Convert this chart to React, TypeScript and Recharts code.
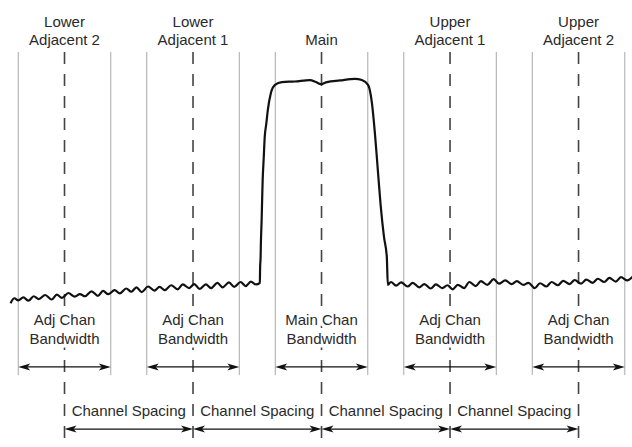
import React from "react";
import {
  LineChart,
  Line,
  XAxis,
  YAxis,
  ReferenceLine,
  ReferenceDot,
} from "recharts";

// frequency offset in MHz, level in dB
const channelCenters = [-10, -5, 0, 5, 10];
const channelBandwidth = 3.6;
const channelNames = [
  ["Lower", "Adjacent 2"],
  ["Lower", "Adjacent 1"],
  ["Main"],
  ["Upper", "Adjacent 1"],
  ["Upper", "Adjacent 2"],
];
const bandwidthLabels = [
  ["Adj Chan", "Bandwidth"],
  ["Adj Chan", "Bandwidth"],
  ["Main Chan", "Bandwidth"],
  ["Adj Chan", "Bandwidth"],
  ["Adj Chan", "Bandwidth"],
];
const spacingLabel = "Channel Spacing";

// measured spectrum trace [freq, dB]
const lowerFloor = [
  [-12.1, -54.6], [-11.95, -53.4], [-11.8, -53.9], [-11.6, -53.2], [-11.4, -54.0],
  [-11.2, -52.9], [-11.0, -53.6], [-10.75, -52.6], [-10.5, -53.7], [-10.3, -52.5],
  [-10.1, -53.3], [-9.85, -52.1], [-9.6, -53.0], [-9.4, -52.4], [-9.2, -52.9],
  [-8.95, -51.7], [-8.7, -52.8], [-8.5, -51.6], [-8.3, -52.4], [-8.05, -51.4],
  [-7.85, -52.2], [-7.6, -51.0], [-7.4, -51.8], [-7.2, -50.7], [-7.0, -51.9],
  [-6.75, -50.5], [-6.5, -51.5], [-6.3, -50.6], [-6.1, -51.4], [-5.85, -50.2],
  [-5.6, -51.2], [-5.4, -50.0], [-5.15, -50.9], [-4.95, -49.9], [-4.75, -51.1],
  [-4.5, -50.0], [-4.3, -50.9], [-4.05, -49.6], [-3.85, -50.7], [-3.6, -49.5],
  [-3.4, -50.6], [-3.15, -49.4], [-2.95, -50.4], [-2.75, -49.3], [-2.55, -50.0],
];
const mainChannel = [
  [-2.4, -49.6], [-2.39, -46.0], [-2.37, -43.2], [-2.36, -40.0], [-2.33, -34.1],
  [-2.31, -29.0], [-2.29, -24.3], [-2.25, -19.0], [-2.21, -13.7], [-2.15, -10.5],
  [-2.09, -7.1], [-1.97, -2.9], [-1.81, -0.9], [-1.54, -0.2], [-1.04, -0.05],
  [-0.45, 0.3], [-0.22, -0.2], [-0.02, -0.7], [0.21, -0.2], [0.72, 0.2],
  [1.3, 0.6], [1.57, 0.3], [1.81, -0.9], [1.96, -5.3], [2.08, -13.0],
  [2.19, -21.8], [2.3, -30.5], [2.43, -38.3], [2.54, -43.2], [2.58, -50.1],
];
const upperFloor = [
  [2.7, -49.4], [2.9, -50.3], [3.1, -49.5], [3.35, -50.5], [3.55, -49.6],
  [3.8, -50.7], [4.0, -49.9], [4.25, -51.0], [4.45, -50.0], [4.7, -50.9],
  [4.9, -50.2], [5.1, -51.2], [5.3, -50.1], [5.55, -50.9], [5.75, -49.4],
  [6.0, -50.4], [6.2, -49.2], [6.45, -50.1], [6.7, -48.7], [6.9, -49.8],
  [7.15, -49.0], [7.4, -49.9], [7.6, -49.2], [7.85, -50.1], [8.05, -49.6],
  [8.3, -50.9], [8.5, -49.7], [8.75, -50.5], [8.95, -49.4], [9.2, -50.2],
  [9.4, -49.1], [9.65, -49.9], [9.85, -48.9], [10.1, -49.8], [10.3, -48.8],
  [10.55, -49.6], [10.75, -48.6], [11.0, -49.4], [11.2, -48.4], [11.45, -49.3],
  [11.65, -48.2], [11.9, -49.0], [12.1, -48.1],
];

const trace = [...lowerFloor, ...mainChannel, ...upperFloor].map(([f, db]) => ({ f, db }));

// annotation levels (dB)
const EDGE_TOP = 7.2;
const EDGE_BOTTOM = -72.3;
const GRID_BOTTOM = -90;
const NAME_ROW1 = 14.8;
const NAME_ROW2 = 10.4;
const BW_ROW1 = -58.7;
const BW_ROW2 = -63.2;
const BW_ARROW = -70.3;
const SPACING_TEXT = -80.9;
const SPACING_ARROW = -85.6;

const FONT = "'Liberation Sans', Arial, sans-serif";
const TEXT_COLOR = "#2a2a2a";

function ArrowLine(props: any) {
  const { x1, y1, x2, y2 } = props;
  const len = 12;
  const hw = 3.5;
  const notch = 9;
  return (
    <g>
      <line x1={x1 + 4} y1={y1} x2={x2 - 4} y2={y2} stroke="#111" strokeWidth={1.3} />
      <polygon
        points={`${x1},${y1} ${x1 + len},${y1 - hw} ${x1 + notch},${y1} ${x1 + len},${y1 + hw}`}
        fill="#111"
      />
      <polygon
        points={`${x2},${y2} ${x2 - len},${y2 - hw} ${x2 - notch},${y2} ${x2 - len},${y2 + hw}`}
        fill="#111"
      />
    </g>
  );
}

function TextMark({ cx, cy, text, halo }: { cx: number; cy: number; text: string; halo?: boolean }) {
  return (
    <text
      x={cx}
      y={cy}
      textAnchor="middle"
      dominantBaseline="central"
      fontSize={15}
      fontFamily={FONT}
      fill={TEXT_COLOR}
      stroke={halo ? "#fff" : "none"}
      strokeWidth={halo ? 7 : 0}
      strokeLinejoin="round"
      style={{ paintOrder: "stroke" }}
    >
      {text}
    </text>
  );
}

function label(x: number, y: number, text: string, key: string, halo = false) {
  return (
    <ReferenceDot
      key={key}
      x={x}
      y={y}
      r={0}
      shape={(p: any) => <TextMark cx={p.cx} cy={p.cy} text={text} halo={halo} />}
    />
  );
}

export default function App() {
  return (
    <div style={{ position: "absolute", left: 0, top: 0, background: "#fff" }}>
      <LineChart
        width={632}
        height={447}
        data={trace}
        margin={{ top: 0, right: 0, bottom: 0, left: 0 }}
      >
        <XAxis type="number" dataKey="f" domain={[-12.51, 12.08]} allowDataOverflow hide />
        <YAxis type="number" domain={[GRID_BOTTOM, 20]} allowDataOverflow hide />

        {channelCenters.map((c) => (
          <ReferenceLine
            key={`l-${c}`}
            segment={[
              { x: c - channelBandwidth / 2, y: EDGE_TOP },
              { x: c - channelBandwidth / 2, y: EDGE_BOTTOM },
            ]}
            stroke="#a8a8a8"
            strokeWidth={1}
          />
        ))}
        {channelCenters.map((c) => (
          <ReferenceLine
            key={`r-${c}`}
            segment={[
              { x: c + channelBandwidth / 2, y: EDGE_TOP },
              { x: c + channelBandwidth / 2, y: EDGE_BOTTOM },
            ]}
            stroke="#a8a8a8"
            strokeWidth={1}
          />
        ))}
        {channelCenters.map((c) => (
          <ReferenceLine
            key={`c-${c}`}
            segment={[
              { x: c, y: EDGE_TOP },
              { x: c, y: GRID_BOTTOM },
            ]}
            stroke="#444"
            strokeWidth={1.6}
            strokeDasharray="12 10"
          />
        ))}

        <Line
          dataKey="db"
          type="monotoneX"
          stroke="#111"
          strokeWidth={2.2}
          strokeLinejoin="round"
          dot={false}
          activeDot={false}
          isAnimationActive={false}
        />

        {channelCenters.flatMap((c, i) =>
          channelNames[i].length === 2
            ? [
                label(c, NAME_ROW1, channelNames[i][0], `n1-${c}`),
                label(c, NAME_ROW2, channelNames[i][1], `n2-${c}`),
              ]
            : [label(c, NAME_ROW2, channelNames[i][0], `n2-${c}`)]
        )}

        {channelCenters.flatMap((c, i) => [
          label(c, BW_ROW1, bandwidthLabels[i][0], `b1-${c}`, true),
          label(c, BW_ROW2, bandwidthLabels[i][1], `b2-${c}`, true),
        ])}
        {channelCenters.map((c) => (
          <ReferenceLine
            key={`ba-${c}`}
            segment={[
              { x: c - channelBandwidth / 2, y: BW_ARROW },
              { x: c + channelBandwidth / 2, y: BW_ARROW },
            ]}
            shape={(p: any) => <ArrowLine {...p} />}
          />
        ))}

        {channelCenters.slice(0, -1).map((c, i) =>
          label((c + channelCenters[i + 1]) / 2, SPACING_TEXT, spacingLabel, `s-${c}`)
        )}
        {channelCenters.slice(0, -1).map((c, i) => (
          <ReferenceLine
            key={`sa-${c}`}
            segment={[
              { x: c, y: SPACING_ARROW },
              { x: channelCenters[i + 1], y: SPACING_ARROW },
            ]}
            shape={(p: any) => <ArrowLine {...p} />}
          />
        ))}
      </LineChart>
    </div>
  );
}
